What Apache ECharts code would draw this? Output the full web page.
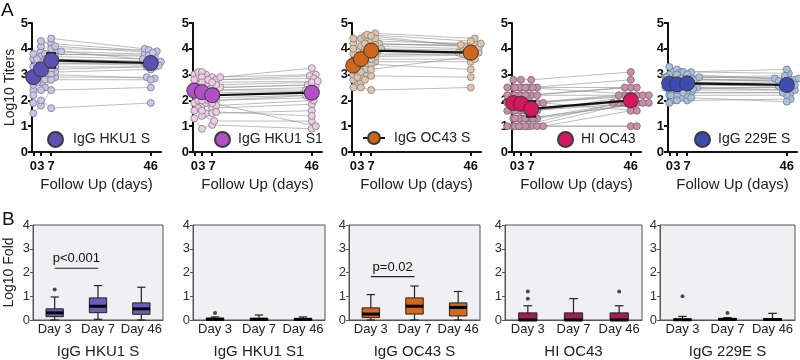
<!DOCTYPE html>
<html><head><meta charset="utf-8">
<script src="https://cdn.jsdelivr.net/npm/echarts@6/dist/echarts.min.js"></script>
<style>html,body{margin:0;padding:0;background:#fff}#c{width:800px;height:360px}</style>
</head><body><div id="c"></div>
<script>
// ---------- DATA ----------
const days = [0, 3, 7, 46];
const dayTicks = [0, 3, 7, 46];
const panelNames = ['IgG HKU1 S', 'IgG HKU1 S1', 'IgG OC43 S', 'HI OC43', 'IgG 229E S'];
const boxCategories = ['Day 3', 'Day 7', 'Day 46'];

// Panel A: individual Log10 titers per subject (index = subject), by follow-up day
const hku1S_d0  = [2.9,3.1,2.4,2.6,3.3,3.6,1.5,1.9,null,3.8,2.8,3.0,null,2.7,2.2,null,null,null,null,null,3.4,null];
const hku1S_d3  = [3.2,3.4,2.5,2.9,3.6,3.9,1.8,2.0,2.7,4.1,3.0,3.3,3.7,2.8,2.4,3.5,4.3,null,null,null,3.6,3.1];
const hku1S_d7  = [3.6,3.8,2.9,3.3,3.9,4.2,2.4,1.7,3.1,4.4,3.5,3.7,4.0,3.2,3.0,3.8,4.1,3.4,2.8,3.6,3.9,3.45];
const hku1S_d46 = [3.5,3.7,2.9,3.3,3.8,3.9,2.5,1.9,3.2,4.0,3.4,3.6,3.95,3.3,2.85,3.75,3.85,3.45,2.8,3.5,3.6,3.35];
const hku1S_mean = [2.9, 3.2, 3.55, 3.45];
const hku1S_sem  = [0.2, 0.22, 0.28, 0.12];

const hku1S1_d0  = [2.4,2.7,3.0,1.9,2.2,1.3,2.5,2.9,1.7,3.1,null,2.0,2.6,null,2.3,null,null,1.6,null,2.8,null,null];
const hku1S1_d3  = [2.3,2.6,3.0,1.8,2.1,0.9,2.5,2.8,1.5,3.1,2.2,1.9,2.6,1.4,2.3,2.9,null,1.6,null,2.7,2.0,null];
const hku1S1_d7  = [2.2,2.5,2.9,1.7,2.0,1.05,2.4,2.8,1.5,2.9,2.1,1.8,2.5,1.2,2.3,2.8,2.6,1.55,2.0,2.7,1.9,2.4];
const hku1S1_d46 = [2.3,2.6,3.0,1.85,2.2,0.9,2.5,2.95,1.6,3.25,2.2,2.0,2.6,1.2,2.35,2.85,2.7,1.4,2.1,2.75,1.0,2.4];
const hku1S1_mean = [2.38, 2.32, 2.2, 2.3];
const hku1S1_sem  = [0.12, 0.14, 0.22, 0.18];

const oc43S_d0  = [3.3,3.6,2.8,3.9,4.2,3.0,2.6,3.5,4.4,3.1,null,3.8,2.9,null,4.0,null,3.4,null,2.5,null,null,null];
const oc43S_d3  = [3.6,3.9,3.0,4.1,4.4,3.3,2.7,3.7,4.5,3.2,2.9,4.0,3.1,2.5,4.2,3.5,3.6,null,2.8,3.8,null,null];
const oc43S_d7  = [3.9,4.2,3.5,4.3,4.6,3.8,2.95,4.0,4.55,3.7,3.4,4.2,3.6,2.4,4.4,3.9,4.1,4.5,3.2,4.0,3.75,4.15];
const oc43S_d46 = [3.85,4.1,3.5,4.2,4.4,3.8,2.9,3.95,4.3,3.75,3.2,4.1,3.6,2.5,4.15,3.9,4.0,4.05,3.7,3.85,3.8,4.2];
const oc43S_mean = [3.35, 3.6, 3.93, 3.85];
const oc43S_sem  = [0.15, 0.18, 0.22, 0.12];

const hiOC43_d0  = [1.0,1.9,2.2,2.5,1.3,1.6,2.8,1.0,1.9,2.2,1.3,2.5,1.6,1.6,2.2,null,1.9,null,2.5,1.0,null,null];
const hiOC43_d3  = [1.0,1.9,2.2,2.5,1.3,1.6,2.8,1.0,1.9,2.2,1.3,2.5,1.6,1.6,2.2,1.0,1.9,2.5,2.5,1.3,1.3,null];
const hiOC43_d7  = [1.0,1.9,2.2,2.5,1.0,1.6,2.8,1.0,1.6,2.2,1.0,2.5,1.3,1.3,1.9,1.0,1.9,2.2,2.5,1.3,1.6,1.9];
const hiOC43_d46 = [1.9,2.2,2.5,2.8,1.0,1.9,3.1,1.0,2.2,2.2,1.6,2.5,1.9,1.9,2.2,1.9,2.2,2.5,2.2,1.9,1.9,1.6];
const hiOC43_mean = [1.9, 1.87, 1.67, 2.0];
const hiOC43_sem  = [0.15, 0.2, 0.3, 0.22];

const e229S_d0  = [2.6,2.9,2.3,3.1,2.0,2.7,2.5,2.8,3.3,2.2,null,2.6,2.4,2.9,null,1.9,2.7,null,2.5,null,3.0,null];
const e229S_d3  = [2.6,2.9,2.3,3.2,2.1,2.7,2.5,2.8,3.1,2.2,2.4,2.6,2.4,2.9,2.0,2.2,2.7,2.8,2.5,3.0,2.9,null];
const e229S_d7  = [2.6,2.9,2.3,3.1,2.0,2.8,2.5,2.8,3.1,2.2,2.4,2.7,2.5,2.9,2.1,2.3,2.7,2.9,2.6,3.0,2.85,2.45];
const e229S_d46 = [2.55,2.85,2.3,3.05,2.05,2.75,2.4,2.8,3.2,2.2,2.4,2.6,2.5,2.95,1.95,2.3,2.7,2.85,2.6,2.85,2.75,2.5];
const e229S_mean = [2.65, 2.62, 2.66, 2.6];
const e229S_sem  = [0.1, 0.1, 0.12, 0.1];

// Panel B: Log10 fold boxplots [min, Q1, median, Q3, max] for Day 3, Day 7, Day 46
const hku1S_box  = [[0.0,0.14,0.3,0.47,0.97],[0.03,0.31,0.58,0.93,1.45],[0.0,0.24,0.47,0.72,1.38]];
const hku1S_out  = [[0,1.28]];
const hku1S_p    = [0, 1, 2.18, 'p<0.001'];
const hku1S1_box = [[0,0,0.03,0.08,0.13],[0,0,0.02,0.08,0.21],[0,0,0.02,0.07,0.13]];
const hku1S1_out = [[0,0.3]];
const oc43S_box  = [[0,0.1,0.25,0.51,1.07],[0,0.25,0.58,0.93,1.43],[0,0.17,0.53,0.72,1.2]];
const oc43S_out  = [];
const oc43S_p    = [0, 1, 1.83, 'p=0.02'];
const hiOC43_box = [[0,0,0,0.3,0.6],[0,0,0,0.3,0.9],[0,0,0,0.3,0.6]];
const hiOC43_out = [[0,0.9],[0,1.2],[2,1.2]];
const e229S_box  = [[0,0,0.01,0.04,0.15],[0,0,0.02,0.07,0.1],[0,0,0.02,0.06,0.28]];
const e229S_out  = [[0,1.0],[1,0.3]];

// ---------- STYLE / LAYOUT ----------
const FONT = '"Liberation Sans", Arial, Helvetica, sans-serif';
const topPanels = [
  {d:[hku1S_d0,hku1S_d3,hku1S_d7,hku1S_d46], mean:hku1S_mean, sem:hku1S_sem, fill:'#c9c5e6', border:'#7b7890', mc:'#5a51b3'},
  {d:[hku1S1_d0,hku1S1_d3,hku1S1_d7,hku1S1_d46], mean:hku1S1_mean, sem:hku1S1_sem, fill:'#eacfe4', border:'#8a7a88', mc:'#b24fc6'},
  {d:[oc43S_d0,oc43S_d3,oc43S_d7,oc43S_d46], mean:oc43S_mean, sem:oc43S_sem, fill:'#dcc6af', border:'#877d74', mc:'#d2651c'},
  {d:[hiOC43_d0,hiOC43_d3,hiOC43_d7,hiOC43_d46], mean:hiOC43_mean, sem:hiOC43_sem, fill:'#c98fa6', border:'#7a6670', mc:'#d4185f'},
  {d:[e229S_d0,e229S_d3,e229S_d7,e229S_d46], mean:e229S_mean, sem:e229S_sem, fill:'#a9bfdc', border:'#6f7c8c', mc:'#3c4cb2'}
];
const botPanels = [
  {box:hku1S_box, out:hku1S_out, p:hku1S_p, color:'#6a5fb8'},
  {box:hku1S1_box, out:hku1S1_out, p:null, color:'#a54cb5'},
  {box:oc43S_box, out:oc43S_out, p:oc43S_p, color:'#d2691e'},
  {box:hiOC43_box, out:hiOC43_out, p:null, color:'#a01e50'},
  {box:e229S_box, out:e229S_out, p:null, color:'#3c4aa8'}
];
const topLefts = [32, 193, 352, 512, 668];
const TOP_W = 129, TOP_T = 23, TOP_H = 129, XMIN = -0.5, XMAX = 50;
const botLayout = [[33,130],[193,132],[349,131],[505,137],[660,135]];
const BOT_T = 225, BOT_H = 96;
const legendLeft = [47, 214, 362, 557, 694];
const legendPad = [5, 3, 4, 3, 3];

// deterministic beeswarm layout (pixel-based packing, no randomness)
const sx = TOP_W / (XMAX - XMIN), sy = TOP_H / 5;
function swarm(day, vals) {
  const placed = [];
  const out = new Array(vals.length).fill(null);
  const order = vals.map((v, i) => [v, i]).filter(p => p[0] != null).sort((a, b) => a[0] - b[0]);
  const D = 4.2, step = 2.0;
  for (const [v, i] of order) {
    let off = 0;
    for (let n = 0; n < 60; n++) {
      const o = n === 0 ? 0 : (n % 2 ? 1 : -1) * Math.ceil(n / 2) * step;
      if (placed.every(p => Math.hypot(p.x - o, (p.y - v) * sy) >= D)) { off = o; break; }
    }
    placed.push({x: off, y: v});
    out[i] = [day + off / sx, v];
  }
  return out;
}

const grid = [], xAxis = [], yAxis = [], series = [], legend = [];

topPanels.forEach((tp, p) => {
  grid.push({left: topLefts[p], top: TOP_T, width: TOP_W, height: TOP_H});
  xAxis.push({
    type: 'value', gridIndex: p, min: XMIN, max: XMAX,
    axisLine: {show: true, onZero: false, lineStyle: {color: '#111', width: 2}},
    axisTick: {show: true, customValues: dayTicks, length: 4, lineStyle: {color: '#111', width: 2}},
    axisLabel: {customValues: dayTicks, fontFamily: FONT, fontWeight: 'bold', fontSize: 13, color: '#111', margin: 8, hideOverlap: false},
    splitLine: {show: false},
    name: 'Follow Up (days)', nameLocation: 'middle', nameGap: 25,
    nameTextStyle: {fontFamily: FONT, fontSize: 15, color: '#222'}
  });
  yAxis.push({
    type: 'value', gridIndex: p, min: 0, max: 5, interval: 1,
    axisLine: {show: true, onZero: false, lineStyle: {color: '#111', width: 2}},
    axisTick: {show: true, length: 4, lineStyle: {color: '#111', width: 2}},
    axisLabel: {fontFamily: FONT, fontWeight: 'bold', fontSize: 13, color: '#111', margin: 4, showMinLabel: true, showMaxLabel: true, hideOverlap: false},
    splitLine: {show: false},
    name: p === 0 ? 'Log10 Titers' : '', nameLocation: 'middle', nameGap: 15,
    nameTextStyle: {fontFamily: FONT, fontSize: 14, color: '#222'}
  });
  const pos = tp.d.map((vals, j) => swarm(days[j], vals));
  const nSub = tp.d[2].length;
  const lineData = [];
  const ptData = [];
  for (let s = 0; s < nSub; s++) {
    const coords = [];
    for (let j = 0; j < days.length; j++) if (pos[j][s]) { coords.push(pos[j][s]); ptData.push(pos[j][s]); }
    if (coords.length >= 2) lineData.push({coords});
  }
  series.push({
    type: 'lines', coordinateSystem: 'cartesian2d', xAxisIndex: p, yAxisIndex: p, polyline: true,
    silent: true, z: 1, data: lineData, lineStyle: {color: '#8f8f8f', width: 0.6, opacity: 1}
  });
  series.push({
    type: 'scatter', xAxisIndex: p, yAxisIndex: p, z: 2, clip: false, silent: true,
    symbolSize: 7, data: ptData,
    itemStyle: {color: tp.fill, borderColor: tp.border, borderWidth: 0.8, opacity: 1}
  });
  series.push({
    type: 'custom', xAxisIndex: p, yAxisIndex: p, z: 3, silent: true,
    data: days.map((d, j) => [d, tp.mean[j] - tp.sem[j], tp.mean[j] + tp.sem[j]]),
    encode: {x: 0, y: [1, 2]},
    renderItem: (params, api) => {
      const a = api.coord([api.value(0), api.value(2)]);
      const b = api.coord([api.value(0), api.value(1)]);
      const w = 5, st = {stroke: '#111', lineWidth: 2};
      return {type: 'group', children: [
        {type: 'line', shape: {x1: a[0], y1: a[1], x2: b[0], y2: b[1]}, style: st},
        {type: 'line', shape: {x1: a[0] - w, y1: a[1], x2: a[0] + w, y2: a[1]}, style: st},
        {type: 'line', shape: {x1: b[0] - w, y1: b[1], x2: b[0] + w, y2: b[1]}, style: st}
      ]};
    }
  });
  series.push({
    name: panelNames[p], type: 'line', xAxisIndex: p, yAxisIndex: p, z: 4, silent: true,
    data: days.map((d, j) => [d, tp.mean[j]]),
    symbol: 'circle', symbolSize: 15,
    itemStyle: {color: tp.mc, borderColor: '#3a3a3a', borderWidth: 1},
    lineStyle: {color: '#111', width: 2.2}
  });
  const item = {name: panelNames[p]};
  if (p !== 2) item.icon = 'circle';
  legend.push({
    data: [item], left: legendLeft[p], top: 131, padding: 0,
    itemWidth: p === 2 ? 22 : 15, itemHeight: 15, selectedMode: false,
    textStyle: {fontFamily: FONT, fontSize: 14, color: '#222', padding: [0, 0, 0, legendPad[p]]}
  });
});

botPanels.forEach((bp, q) => {
  const gi = 5 + q;
  grid.push({left: botLayout[q][0], width: botLayout[q][1], top: BOT_T, height: BOT_H,
    show: true, backgroundColor: '#f0f0f3', borderColor: '#555', borderWidth: 1});
  xAxis.push({
    type: 'category', gridIndex: gi, data: boxCategories, boundaryGap: true,
    axisLine: {show: true, lineStyle: {color: '#555', width: 1}},
    axisTick: {show: false},
    axisLabel: {interval: 0, fontFamily: FONT, fontSize: 13, color: '#222', margin: 3, hideOverlap: false},
    name: panelNames[q], nameLocation: 'middle', nameGap: 24,
    nameTextStyle: {fontFamily: FONT, fontSize: 15, color: '#222'}
  });
  yAxis.push({
    type: 'value', gridIndex: gi, min: 0, max: 4, interval: 1,
    axisLine: {show: true, lineStyle: {color: '#555', width: 1}},
    axisTick: {show: true, length: 3, lineStyle: {color: '#555'}},
    axisLabel: {fontFamily: FONT, fontSize: 13, color: '#333', margin: 3, showMinLabel: true, hideOverlap: false},
    splitLine: {show: false},
    name: q === 0 ? 'Log10 Fold' : '', nameLocation: 'middle', nameGap: 17,
    nameTextStyle: {fontFamily: FONT, fontSize: 14, color: '#222'}
  });
  const color = bp.color;
  series.push({
    type: 'custom', xAxisIndex: gi, yAxisIndex: gi, z: 3, silent: true,
    data: bp.box.map((r, i) => [i].concat(r)),
    encode: {x: 0, y: [1, 2, 3, 4, 5]},
    renderItem: (params, api) => {
      const c = api.value(0);
      const pt = [1, 2, 3, 4, 5].map(k => api.coord([c, api.value(k)]));
      const cw = api.size([1, 0])[0];
      const bw = cw * 0.4, capw = cw * 0.19, x = pt[0][0];
      const ws = {stroke: '#222', lineWidth: 1.2};
      return {type: 'group', children: [
        {type: 'line', shape: {x1: x, y1: pt[0][1], x2: x, y2: pt[1][1]}, style: ws},
        {type: 'line', shape: {x1: x, y1: pt[3][1], x2: x, y2: pt[4][1]}, style: ws},
        {type: 'line', shape: {x1: x - capw / 2, y1: pt[0][1], x2: x + capw / 2, y2: pt[0][1]}, style: ws},
        {type: 'line', shape: {x1: x - capw / 2, y1: pt[4][1], x2: x + capw / 2, y2: pt[4][1]}, style: ws},
        {type: 'rect', shape: {x: x - bw / 2, y: pt[3][1], width: bw, height: Math.max(1, pt[1][1] - pt[3][1])},
          style: {fill: color, stroke: '#222', lineWidth: 1}},
        {type: 'line', shape: {x1: x - bw / 2, y1: pt[2][1], x2: x + bw / 2, y2: pt[2][1]}, style: {stroke: '#000', lineWidth: 3}}
      ]};
    }
  });
  if (bp.out.length) series.push({
    type: 'scatter', xAxisIndex: gi, yAxisIndex: gi, z: 4, silent: true, symbolSize: 4,
    data: bp.out, itemStyle: {color: '#222'}
  });
  if (bp.p) series.push({
    type: 'custom', xAxisIndex: gi, yAxisIndex: gi, z: 4, silent: true,
    data: [[bp.p[0], bp.p[1], bp.p[2]]], encode: {x: [0, 1], y: 2},
    renderItem: (params, api) => {
      const a = api.coord([api.value(0), api.value(2)]);
      const b = api.coord([api.value(1), api.value(2)]);
      return {type: 'group', children: [
        {type: 'line', shape: {x1: a[0], y1: a[1], x2: b[0], y2: b[1]}, style: {stroke: '#222', lineWidth: 1.2}},
        {type: 'text', x: (a[0] + b[0]) / 2, y: a[1] - 3,
          style: {text: bp.p[3], fill: '#111', fontSize: 13, fontFamily: FONT, align: 'center', verticalAlign: 'bottom'}}
      ]};
    }
  });
});

const chart = echarts.init(document.getElementById('c'));
chart.setOption({
  animation: false,
  backgroundColor: '#fff',
  grid, xAxis, yAxis, series, legend,
  graphic: [
    {type: 'text', left: 1, top: 1, style: {text: 'A', fontSize: 19, fontFamily: FONT, fill: '#111'}},
    {type: 'text', left: 2, top: 210, style: {text: 'B', fontSize: 19, fontFamily: FONT, fill: '#111'}}
  ]
});
</script></body></html>
